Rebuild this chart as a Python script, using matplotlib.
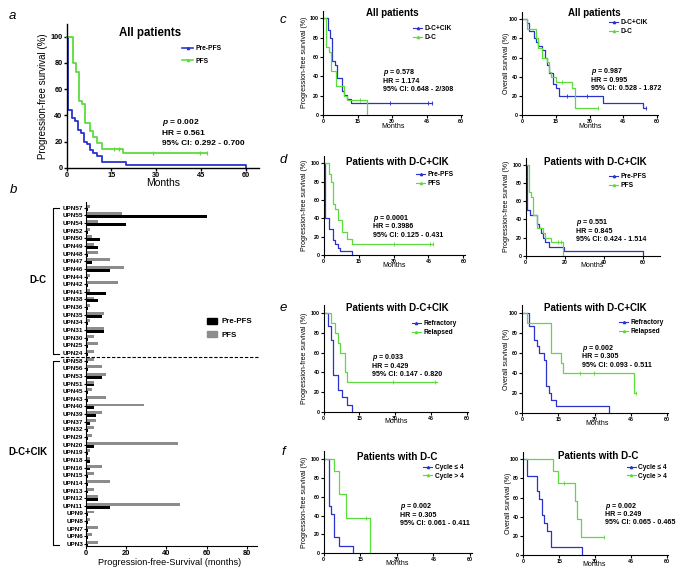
import matplotlib.pyplot as plt
from matplotlib.lines import Line2D
from matplotlib.patches import Patch
import numpy as np

plt.rcParams['font.family'] = ['Liberation Sans', 'DejaVu Sans']
plt.rcParams['font.weight'] = 'bold'
plt.rcParams['mathtext.fontset'] = 'custom'
plt.rcParams['mathtext.it'] = 'Liberation Sans:italic:bold'
plt.rcParams['mathtext.rm'] = 'Liberation Sans:bold'

# ---------------- data (months, % surviving) ----------------
# a: all patients, PFS
a_pre_t = [0, 0.5, 1.7, 2.8, 3.9, 4.8, 5.9, 6.9, 7.8, 8.9, 10, 11.7, 20, 60]
a_pre_s = [100, 44.4, 37.8, 35.6, 28.9, 26.7, 20, 17.8, 13.3, 11.1, 8.9, 4.4, 2.2, 0]
a_pfs_t = [0, 2, 3.1, 4.1, 5.1, 6.1, 7.8, 8.9, 10, 11.7, 19, 47]
a_pfs_s = [100, 80, 73.3, 51.1, 48.9, 34.4, 27.8, 23.3, 18.9, 14.4, 11.1, 11.1]
a_pfs_cens = [16, 17.5, 29, 44.7, 47]

# b: swimmer bars
b_dc_ids = ['UPN57', 'UPN55', 'UPN54', 'UPN52', 'UPN50', 'UPN49', 'UPN48', 'UPN47', 'UPN46', 'UPN44',
            'UPN42', 'UPN41', 'UPN38', 'UPN36', 'UPN35', 'UPN34', 'UPN31', 'UPN30', 'UPN25', 'UPN24']
b_dc_pre = [1, 60, 20, 1, 7, 6, 1, 3, 12, 1, 1, 10, 6, 1, 8, 1, 9, 1, 1, 1]
b_dc_pfs = [2, 18, 6, 2, 3, 4, 6, 12, 19, 2, 16, 2, 4, 2, 9, 2, 9, 4, 6, 4]
b_cik_ids = ['UPN58', 'UPN56', 'UPN53', 'UPN51', 'UPN45', 'UPN43', 'UPN40', 'UPN39', 'UPN37', 'UPN32',
             'UPN29', 'UPN20', 'UPN19', 'UPN18', 'UPN16', 'UPN15', 'UPN14', 'UPN13', 'UPN12', 'UPN11',
             'UPN9', 'UPN8', 'UPN7', 'UPN6', 'UPN3']
b_cik_pre = [1, 1, 8, 4, 1, 1, 4, 5, 2, 1, 1, 4, 1, 2, 2, 1, 1, 1, 6, 12, 1, 1, 1, 1, 1]
b_cik_pfs = [4, 8, 10, 4, 3, 10, 29, 8, 5, 4, 3, 46, 2, 2, 8, 4, 12, 4, 6, 47, 4, 2, 6, 3, 6]

# c: all patients by arm
c_cik_t = [0, 2.2, 3.2, 4.1, 5.2, 6.2, 8.3, 9.3, 10.3, 12.2, 47.2]
c_cik_s = [100, 88, 80, 56, 52, 38, 25, 21, 17, 12.5, 12.5]
c_cik_cens = [29, 45.8, 47.2]
c_dc_t = [0, 1.5, 2.5, 3.6, 5.8, 9.3, 10.3, 19.2]
c_dc_s = [100, 70, 65, 45, 30, 20, 15, 0]
c_dc_cens = [16]
c_os_cik_t = [0, 2, 3, 5, 6, 7, 9, 10, 11, 12, 13.8, 15, 16.5, 36, 54, 55]
c_os_cik_s = [100, 96, 88, 80, 76, 72, 68, 60, 52, 44, 32, 28, 20, 13, 7, 7]
c_os_cik_cens = [20, 29, 55]
c_os_dc_t = [0, 2, 6, 7, 9, 11, 12, 13, 15, 22, 23.5, 34]
c_os_dc_s = [100, 90, 80, 70, 60, 55, 45, 40, 35, 28, 7, 7]
c_os_dc_cens = [17.5, 34]

# d: D-C+CIK, pre-PFS vs PFS
d_pre_t = [0, 0.6, 2.1, 3.9, 5, 6, 7, 12.2]
d_pre_s = [100, 40, 28, 16, 12, 8, 4, 0]
d_pfs_t = [0, 2.3, 3.3, 4.2, 5, 6, 8, 10, 12, 47.1]
d_pfs_s = [100, 88, 80, 56, 50, 38, 25, 17, 12.5, 12.5]
d_pfs_cens = [30, 45.7, 47.1]
d2_pre_t = [0, 0.7, 2.2, 6, 6.8, 7.8, 8.8, 9.9, 11.7, 19.6, 60]
d2_pre_s = [100, 50, 45, 35, 30, 25, 20, 15, 10, 5, 0]
d2_pfs_t = [0, 1.9, 2.9, 3.9, 6, 8.8, 9.9, 12.9, 18.9]
d2_pfs_s = [100, 70, 65, 45, 30, 25, 20, 15, 0]
d2_pfs_cens = [16.5, 18]

# e: refractory vs relapsed
e_ref_t = [0, 2, 2.9, 3.9, 5.9, 7.8, 9.8, 11.9]
e_ref_s = [100, 87, 73, 37, 22, 15, 7, 0]
e_rel_t = [0, 2.9, 4.9, 5.9, 6.9, 8.8, 9.9, 47.4]
e_rel_s = [100, 90, 80, 70, 60, 40, 30, 30]
e_rel_cens = [29, 46.7]
e_os_ref_t = [0, 2.9, 5, 6, 7, 9, 10, 11, 12, 14, 36]
e_os_ref_s = [100, 87, 73, 67, 60, 53, 27, 20, 13, 7, 0]
e_os_rel_t = [0, 1.9, 11.9, 16, 17, 46.2, 47.2]
e_os_rel_s = [100, 90, 60, 50, 40, 20, 20]
e_os_rel_cens = [24, 29.6, 47.2]

# f: D-C by number of cycles
f_le_t = [0, 2, 3.1, 4.2, 6.1, 12.2]
f_le_s = [100, 50, 42, 17, 8, 0]
f_gt_t = [0, 4.1, 6.1, 9.2, 19.1]
f_gt_s = [100, 87.5, 62.5, 37.5, 0]
f_gt_cens = [17.3]
f_os_le_t = [0, 1.7, 5.6, 6.4, 7.7, 8.8, 9.8, 11.7, 24.7]
f_os_le_s = [100, 83, 67, 58, 42, 33, 25, 8, 0]
f_os_gt_t = [0, 12.4, 14.5, 21.6, 22.3, 24.1, 33.8]
f_os_gt_s = [100, 87.5, 75, 56, 37.5, 19, 19]
f_os_gt_cens = [17, 33.8]

# ---------------- drawing ----------------
W, H = 683, 577
BLUE = '#2a32cc'
GREEN = '#5cdc3c'

fig = plt.figure(figsize=(W / 100, H / 100), dpi=100)
fig.patch.set_facecolor('white')
PX = {}


def make_ax(x0, y0, ppx, ppy, xmax, ymax=108):
    w, h = xmax * ppx, ymax * ppy
    ax = fig.add_axes([x0 / W, 1 - y0 / H, w / W, h / H])
    ax.set_xlim(0, xmax)
    ax.set_ylim(0, ymax)
    PX[ax] = (x0, y0, w, h)
    return ax


def to_ax(ax, px, py):
    x0, y0, w, h = PX[ax]
    return (px - x0) / w, (y0 - py) / h


def style(ax, tick_fs, lw):
    for s in ['top', 'right']:
        ax.spines[s].set_visible(False)
    for s in ['left', 'bottom']:
        ax.spines[s].set_linewidth(lw)
    ax.tick_params(direction='out', length=2, width=lw, labelsize=tick_fs, pad=1)


def km(ax, t, s, cens, color, lw):
    ax.plot(t, s, drawstyle='steps-post', color=color, lw=lw, clip_on=False)
    if cens:
        ys = [s[np.searchsorted(t, c, side='right') - 1] for c in cens]
        ax.plot(cens, ys, ls='none', marker='|', ms=2.5, mew=lw * 0.7, color=color, clip_on=False)


def km_panel(ax, curves, names, title, tpos, ylab, ylx, xlpos, stats, spos, lpos,
             xticks=(0, 15, 30, 45, 60), big=False):
    if big:
        fs_t, fs_l, fs_x, fs_k, fs_s, fs_g, lw, sp, row, hl = 8.3, 7, 7.5, 5.3, 6, 4.8, 1.3, 10.3, 12.7, 1.65
    else:
        fs_t, fs_l, fs_x, fs_k, fs_s, fs_g, lw, sp, row, hl = 7, 5, 5, 3.8, 5.1, 4.8, 0.9, 8.5, 9.3, 1.35
    handles = []
    for (t, s, c), col in zip(curves, [BLUE, GREEN]):
        km(ax, t, s, c, col, lw)
        handles.append(Line2D([], [], color=col, lw=lw * 0.9, marker='^', ms=1.6))
    ax.set_xticks(list(xticks))
    ax.set_yticks([0, 20, 40, 60, 80, 100])
    style(ax, fs_k, 1.0 if big else 0.8)
    ax.text(*to_ax(ax, *tpos), title, transform=ax.transAxes, ha='center', va='center', fontsize=fs_t)
    ax.set_ylabel(ylab, fontsize=fs_l)
    ax.yaxis.set_label_coords(to_ax(ax, ylx, 0)[0], 0.5)
    ax.yaxis.label.set_va('center')
    ax.set_xlabel('Months', fontsize=fs_x)
    ax.xaxis.set_label_coords(*to_ax(ax, *xlpos))
    ax.xaxis.label.set_va('center')
    for i, line in enumerate(stats):
        fx, fy = to_ax(ax, spos[0], spos[1] + i * sp)
        ax.text(fx, fy, line, transform=ax.transAxes, ha='left', va='center', fontsize=fs_s)
    fs_px = fs_g / 0.72
    ax.legend(handles, names, loc='upper left',
              bbox_to_anchor=to_ax(ax, lpos[0], lpos[1] - 0.58 * fs_px), bbox_transform=ax.transAxes,
              frameon=False, fontsize=fs_g, handlelength=hl, handletextpad=0.4,
              labelspacing=(row - 1.12 * fs_px) / fs_px, borderpad=0, borderaxespad=0)


def stat_lines(p, hr, ci):
    return ['$p$ = ' + p, 'HR = ' + hr, '95% CI: ' + ci]


PFS_LAB = 'Progression-free survival (%)'
OS_LAB = 'Overall survival (%)'

# a
ax = make_ax(66.7, 167.7, 2.983, 1.31, 64.6, 109.5)
km_panel(ax, [(a_pre_t, a_pre_s, None), (a_pfs_t, a_pfs_s, a_pfs_cens)], ['Pre-PFS', 'PFS'],
         'All patients', (150, 33.3), PFS_LAB, 42.7, (163, 183),
         stat_lines('0.002', '0.561', '0.292 - 0.700'), (162, 122.7), (182, 49.3), big=True)

# c
ax = make_ax(323, 115, 2.3, 0.967, 60.4)
km_panel(ax, [(c_cik_t, c_cik_s, c_cik_cens), (c_dc_t, c_dc_s, c_dc_cens)], ['D-C+CIK', 'D-C'],
         'All patients', (392.7, 12.7), PFS_LAB, 305, (392.7, 126.7),
         stat_lines('0.578', '1.174', '0.648 - 2/308'), (383.3, 72.7), (413.3, 29.3))
ax = make_ax(522.3, 115, 2.24, 0.957, 60.6)
km_panel(ax, [(c_os_cik_t, c_os_cik_s, c_os_cik_cens), (c_os_dc_t, c_os_dc_s, c_os_dc_cens)],
         ['D-C+CIK', 'D-C'], 'All patients', (594.3, 12.7), OS_LAB, 506.7, (590, 127),
         stat_lines('0.987', '0.995', '0.528 - 1.872'), (591, 71.7), (609.3, 23.3))

# d
ax = make_ax(323.7, 255, 2.327, 0.917, 60.7)
km_panel(ax, [(d_pre_t, d_pre_s, None), (d_pfs_t, d_pfs_s, d_pfs_cens)], ['Pre-PFS', 'PFS'],
         'Patients with D-C+CIK', (397.3, 161.7), PFS_LAB, 305, (394, 265.7),
         stat_lines('0.0001', '0.3986', '0.125 - 0.431'), (373.3, 218.3), (416, 175))
ax = make_ax(525.7, 255.7, 1.96, 0.907, 68.5)
km_panel(ax, [(d2_pre_t, d2_pre_s, None), (d2_pfs_t, d2_pfs_s, d2_pfs_cens)], ['Pre-PFS', 'PFS'],
         'Patients with D-C+CIK', (595.3, 161.7), PFS_LAB, 506.7, (591.7, 265.7),
         stat_lines('0.551', '0.845', '0.424 - 1.514'), (576, 222.7), (609.3, 177.3),
         xticks=(0, 20, 40, 60))

# e
ax = make_ax(323.7, 411.7, 2.383, 0.984, 60.7)
km_panel(ax, [(e_ref_t, e_ref_s, None), (e_rel_t, e_rel_s, e_rel_cens)], ['Refractory', 'Relapsed'],
         'Patients with D-C+CIK', (397.3, 308.3), PFS_LAB, 305, (396, 421.7),
         stat_lines('0.033', '0.429', '0.147 - 0.820'), (372.3, 357.7), (411.7, 324))
ax = make_ax(522.3, 413.3, 2.407, 1.003, 60.7)
km_panel(ax, [(e_os_ref_t, e_os_ref_s, None), (e_os_rel_t, e_os_rel_s, e_os_rel_cens)],
         ['Refractory', 'Relapsed'], 'Patients with D-C+CIK', (595.3, 308), OS_LAB, 506.7, (597.3, 423.3),
         stat_lines('0.002', '0.305', '0.093 - 0.511'), (581.7, 348.3), (619.3, 323.3))

# f
ax = make_ax(323.7, 553.3, 2.438, 0.943, 60.7)
km_panel(ax, [(f_le_t, f_le_s, None), (f_gt_t, f_gt_s, f_gt_cens)], ['Cycle ≤ 4', 'Cycle > 4'],
         'Patients with D-C', (396.7, 456.7), PFS_LAB, 305, (397.3, 563.3),
         stat_lines('0.002', '0.305', '0.061 - 0.411'), (400, 506.7), (423.3, 467.7))
ax = make_ax(523.3, 555, 2.39, 0.957, 60.7)
km_panel(ax, [(f_os_le_t, f_os_le_s, None), (f_os_gt_t, f_os_gt_s, f_os_gt_cens)],
         ['Cycle ≤ 4', 'Cycle > 4'], 'Patients with D-C', (597.7, 455.7), OS_LAB, 508.3, (594, 565),
         stat_lines('0.002', '0.249', '0.065 - 0.465'), (605, 506), (626.7, 467.7))

# b: swimmer plot
ids = b_dc_ids + b_cik_ids
pre = b_dc_pre + b_cik_pre
pfs = b_dc_pfs + b_cik_pfs
y = np.arange(len(ids))
n_dc = len(b_dc_ids)

bx = fig.add_axes([86 / W, 1 - 546.3 / H, 170.9 / W, 343.9 / H])
bx.barh(y - 0.19, pfs, height=0.38, color='#8c8c8c', label='PFS')
bx.barh(y + 0.19, pre, height=0.38, color='black', label='Pre-PFS')
bx.set_xlim(0, 85)
bx.set_ylim(len(ids) - 0.7, -0.7)
bx.set_yticks(y)
bx.set_yticklabels(ids)
bx.set_xticks([0, 20, 40, 60, 80])
for s in ['top', 'right']:
    bx.spines[s].set_visible(False)
for s in ['left', 'bottom']:
    bx.spines[s].set_linewidth(0.8)
bx.tick_params(axis='y', direction='out', length=1.5, width=0.8, labelsize=4.6, pad=0.5)
bx.tick_params(axis='x', direction='out', length=2, width=0.8, labelsize=5.4, pad=0.5)
bx.set_xlabel('Progression-free-Survival (months)', fontsize=6.6)
bx.xaxis.set_label_coords((170 - 86) / 170.9, (546.3 - 562.7) / 343.9)
bx.xaxis.label.set_va('center')

tr = bx.get_yaxis_transform()
bx.plot([1.006, -0.152], [n_dc - 0.5, n_dc - 0.5], transform=tr, color='black', lw=0.8,
        ls=(0, (3, 1.6)), clip_on=False)
for lo, hi in [(0, n_dc - 1), (n_dc, len(ids) - 1)]:
    bx.plot([-0.158, -0.193, -0.193, -0.158], [lo, lo, hi + 0.1, hi + 0.1], transform=tr,
            color='black', lw=0.8, clip_on=False)
bx.text(-0.281, (n_dc - 1) / 2, 'D-C', transform=tr, ha='center', va='center', fontsize=6.9)
bx.text(-0.339, (n_dc + len(ids) - 1) / 2, 'D-C+CIK', transform=tr, ha='center', va='center', fontsize=6.9)
bx.legend([Patch(color='black'), Patch(color='#8c8c8c')], ['Pre-PFS', 'PFS'], loc='upper left',
          bbox_to_anchor=((207 - 86) / 170.9, (546.3 - 317.5) / 343.9), frameon=False, fontsize=5.7,
          handlelength=1.27, handleheight=0.8, handletextpad=0.6, labelspacing=0.75,
          borderpad=0, borderaxespad=0)

# panel letters
for letter, (px, py) in zip('abcdef', [(12, 16), (13, 190), (283, 20), (283, 160), (283, 308), (283, 452)]):
    fig.text(px / W, 1 - py / H, letter, fontsize=9.5, style='italic', fontweight='normal',
             ha='center', va='center')

fig.savefig('out.png', dpi=100, facecolor='white')
